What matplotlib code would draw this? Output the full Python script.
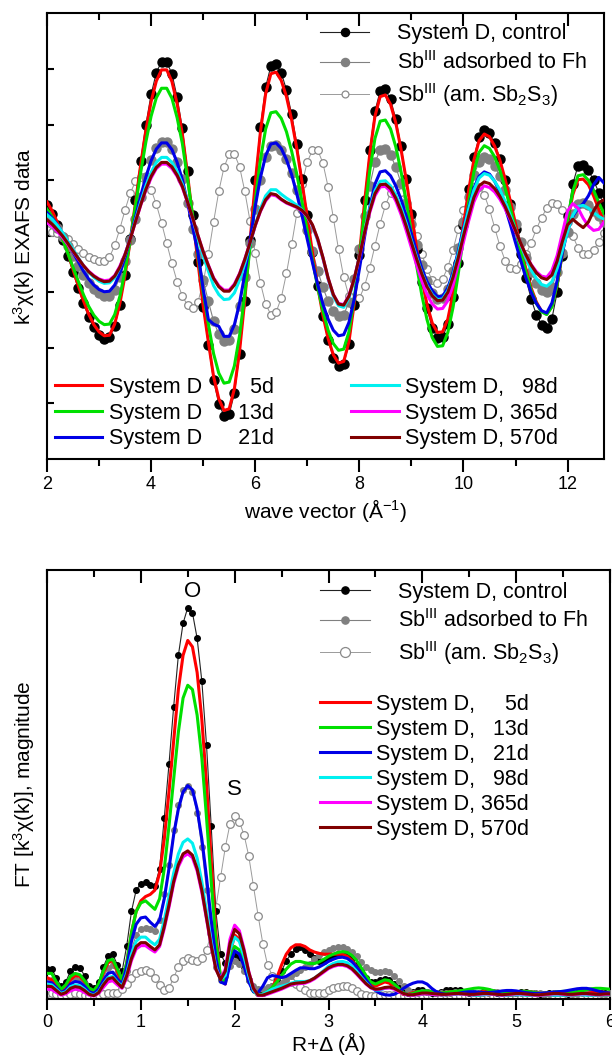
import numpy as np
import matplotlib
matplotlib.use('Agg')
import matplotlib.pyplot as plt

plt.rcParams['font.family'] = ['Liberation Sans', 'DejaVu Sans']
plt.rcParams['mathtext.default'] = 'regular'

# ---------------------------------------------------------------
# EXAFS data, k grid (A^-1)
# ---------------------------------------------------------------
k = np.round(np.arange(2.0, 12.75, 0.1), 1)

chi_control = [
    0.565, 0.40, 0.19, -0.07, -0.35, -0.65, -0.94, -1.21, -1.45, -1.64, -1.77, -1.84,
    -1.82, -1.62, -1.24, -0.70, -0.055, 0.65, 1.35, 2.0, 2.54, 2.93, 3.13,
    3.12, 2.91, 2.49, 1.93, 1.17, 0.37, -0.47, -1.27, -1.95, -2.59, -3.01, -3.22,
    -3.20, -2.82, -2.11, -1.16, -0.075, 1.01, 1.96, 2.67, 3.05,
    3.08, 2.93, 2.62, 2.18, 1.65, 1.03, 0.375, -0.28, -0.90, -1.43, -1.87, -2.18, -2.33,
    -2.30, -1.93, -1.24, -0.34, 0.64, 1.54, 2.24, 2.60,
    2.63, 2.45, 2.10, 1.61, 1.03, 0.40, -0.23, -0.82, -1.30, -1.65, -1.83,
    -1.82, -1.57, -1.10, -0.49, 0.20, 0.84, 1.41, 1.77,
    1.90, 1.84, 1.66, 1.38, 1.01, 0.58, 0.125, -0.33, -0.76, -1.13, -1.41, -1.59,
    -1.65, -1.48, -1.01, -0.35, 0.35, 0.93, 1.26,
    1.28, 1.18, 1.0, 0.78, 0.55]

chi_fh = [
    0.37, 0.27, 0.14, -0.01, -0.18, -0.36, -0.53, -0.70, -0.84, -0.95, -1.03, -1.08,
    -1.07, -0.96, -0.74, -0.44, -0.08, 0.31, 0.70, 1.06, 1.36, 1.57, 1.69,
    1.69, 1.56, 1.33, 1.02, 0.59, 0.13, -0.33, -0.79, -1.17, -1.53, -1.76, -1.89,
    -1.87, -1.66, -1.26, -0.73, -0.13, 0.48, 1.01, 1.41, 1.62,
    1.64, 1.55, 1.38, 1.13, 0.83, 0.48, 0.11, -0.27, -0.62, -0.92, -1.17, -1.34, -1.43,
    -1.41, -1.19, -0.77, -0.23, 0.36, 0.90, 1.32, 1.54,
    1.56, 1.45, 1.24, 0.95, 0.60, 0.22, -0.17, -0.52, -0.81, -1.02, -1.13,
    -1.12, -0.95, -0.63, -0.21, 0.26, 0.70, 1.09, 1.33,
    1.42, 1.38, 1.26, 1.07, 0.82, 0.52, 0.21, -0.10, -0.40, -0.65, -0.84, -0.96,
    -1.0, -0.91, -0.65, -0.30, 0.08, 0.40, 0.58,
    0.6, 0.55, 0.45, 0.35, 0.25]

chi_sb2s3 = [
    0.1, 0.08, 0.05, 0.0, -0.06, -0.14, -0.23, -0.31, -0.38, -0.42, -0.45, -0.45,
    -0.38, -0.17, 0.13, 0.47, 0.77, 0.98, 1.05,
    0.99, 0.83, 0.57, 0.24, -0.13, -0.49, -0.82, -1.08, -1.24, -1.3,
    -1.18, -0.84, -0.33, 0.25, 0.80, 1.23, 1.47,
    1.47, 1.24, 0.80, 0.27, -0.31, -0.84, -1.22, -1.41,
    -1.37, -1.11, -0.67, -0.15, 0.41, 0.94, 1.33, 1.54,
    1.54, 1.31, 0.88, 0.33, -0.24, -0.74, -1.08, -1.2,
    -1.12, -0.90, -0.57, -0.175, 0.22, 0.55, 0.77, 0.85,
    0.79, 0.60, 0.32, 0.0, -0.32, -0.60, -0.79, -0.85,
    -0.77, -0.56, -0.25, 0.12, 0.46, 0.73, 0.88,
    0.88, 0.74, 0.48, 0.15, -0.18, -0.44, -0.58,
    -0.59, -0.50, -0.33, -0.12, 0.12, 0.33, 0.50, 0.59,
    0.58, 0.46, 0.25, 0.0, -0.21, -0.33,
    -0.33, -0.25, -0.1, 0.05]

chi_5d = [
    0.61, 0.45, 0.24, -0.02, -0.30, -0.60, -0.89, -1.16, -1.40, -1.59, -1.72, -1.79,
    -1.78, -1.58, -1.21, -0.70, -0.08, 0.60, 1.28, 1.90, 2.41, 2.78, 2.98,
    2.98, 2.77, 2.37, 1.83, 1.10, 0.32, -0.47, -1.25, -1.90, -2.52, -2.92, -3.13,
    -3.10, -2.74, -2.06, -1.14, -0.10, 0.95, 1.87, 2.55, 2.91,
    2.94, 2.79, 2.50, 2.08, 1.56, 0.96, 0.33, -0.30, -0.90, -1.42, -1.84, -2.13, -2.28,
    -2.25, -1.90, -1.22, -0.35, 0.60, 1.47, 2.15, 2.50,
    2.53, 2.36, 2.03, 1.56, 1.01, 0.40, -0.21, -0.76, -1.23, -1.56, -1.73,
    -1.72, -1.49, -1.03, -0.45, 0.20, 0.82, 1.36, 1.71,
    1.83, 1.78, 1.61, 1.36, 1.02, 0.63, 0.22, -0.20, -0.59, -0.93, -1.18, -1.35,
    -1.40, -1.26, -0.87, -0.32, 0.26, 0.74, 1.01,
    1.02, 0.92, 0.72, 0.48, 0.25]

chi_13d = [
    0.48, 0.34, 0.16, -0.06, -0.31, -0.56, -0.81, -1.05, -1.26, -1.42, -1.53, -1.59,
    -1.58, -1.41, -1.08, -0.62, -0.07, 0.54, 1.14, 1.69, 2.15, 2.48, 2.65,
    2.65, 2.47, 2.12, 1.66, 1.02, 0.35, -0.34, -1.01, -1.58, -2.11, -2.46, -2.64,
    -2.62, -2.33, -1.78, -1.04, -0.21, 0.63, 1.37, 1.92, 2.21,
    2.23, 2.11, 1.87, 1.52, 1.10, 0.61, 0.09, -0.43, -0.92, -1.34, -1.69, -1.93, -2.05,
    -2.03, -1.72, -1.14, -0.39, 0.42, 1.17, 1.75, 2.06,
    2.08, 1.92, 1.60, 1.16, 0.63, 0.05, -0.53, -1.06, -1.50, -1.82, -1.98,
    -1.97, -1.73, -1.28, -0.68, -0.02, 0.60, 1.15, 1.50,
    1.62, 1.57, 1.42, 1.18, 0.86, 0.50, 0.11, -0.29, -0.65, -0.97, -1.21, -1.36,
    -1.41, -1.27, -0.86, -0.30, 0.30, 0.80, 1.08,
    1.10, 1.0, 0.82, 0.6, 0.4]

chi_21d = [
    0.42, 0.32, 0.20, 0.05, -0.12, -0.29, -0.46, -0.63, -0.77, -0.88, -0.96, -1.0,
    -0.99, -0.88, -0.67, -0.38, -0.04, 0.34, 0.72, 1.06, 1.35, 1.56, 1.67,
    1.67, 1.55, 1.32, 1.01, 0.60, 0.15, -0.30, -0.95, -1.50, -1.58, -1.62, -1.80,
    -1.80, -1.59, -1.20, -0.68, -0.08, 0.53, 1.05, 1.44, 1.65,
    1.67, 1.57, 1.37, 1.10, 0.75, 0.36, -0.06, -0.48, -0.87, -1.22, -1.49, -1.69, -1.79,
    -1.77, -1.55, -1.14, -0.60, -0.02, 0.52, 0.93, 1.15,
    1.17, 1.08, 0.90, 0.66, 0.36, 0.04, -0.28, -0.58, -0.82, -0.98, -1.09,
    -1.08, -0.93, -0.65, -0.28, 0.13, 0.51, 0.86, 1.07,
    1.15, 1.11, 0.98, 0.78, 0.52, 0.21, -0.12, -0.44, -0.75, -1.01, -1.21, -1.34,
    -1.38, -1.2, -0.8, -0.3, 0.1, 0.35, 0.5,
    0.58, 0.72, 0.92, 1.05, 0.95]

chi_98d = [
    0.38, 0.30, 0.19, 0.06, -0.09, -0.24, -0.39, -0.53, -0.65, -0.74, -0.81, -0.85,
    -0.84, -0.75, -0.57, -0.33, -0.04, 0.29, 0.61, 0.90, 1.14, 1.32, 1.41,
    1.41, 1.32, 1.16, 0.93, 0.63, 0.30, -0.03, -0.36, -0.63, -0.89, -1.05, -1.14,
    -1.13, -1.02, -0.79, -0.49, -0.15, 0.19, 0.49, 0.72, 0.83,
    0.83, 0.75, 0.68, 0.62, 0.55, 0.47, 0.35, 0.18, -0.08, -0.40, -0.77, -1.08, -1.25,
    -1.28, -1.11, -0.79, -0.38, 0.08, 0.49, 0.81, 0.98,
    0.99, 0.90, 0.74, 0.51, 0.23, -0.08, -0.38, -0.66, -0.89, -1.05, -1.14,
    -1.13, -0.98, -0.70, -0.32, 0.09, 0.48, 0.82, 1.04,
    1.12, 1.09, 0.98, 0.83, 0.62, 0.37, 0.11, -0.15, -0.40, -0.61, -0.76, -0.87,
    -0.90, -0.82, -0.58, -0.26, 0.08, 0.37, 0.53,
    0.55, 0.5, 0.42, 0.35, 0.3]

chi_365d = [
    0.24, 0.17, 0.08, -0.03, -0.15, -0.28, -0.41, -0.53, -0.63, -0.71, -0.77, -0.80,
    -0.79, -0.71, -0.54, -0.32, -0.05, 0.25, 0.55, 0.82, 1.04, 1.21, 1.29,
    1.29, 1.21, 1.07, 0.87, 0.60, 0.31, 0.01, -0.28, -0.52, -0.75, -0.89, -0.97,
    -0.97, -0.86, -0.67, -0.41, -0.12, 0.18, 0.44, 0.63, 0.74,
    0.72, 0.65, 0.59, 0.55, 0.51, 0.45, 0.35, 0.19, -0.06, -0.39, -0.76, -1.05, -1.21,
    -1.23, -1.07, -0.77, -0.39, 0.04, 0.42, 0.72, 0.88,
    0.89, 0.80, 0.63, 0.39, 0.10, -0.21, -0.52, -0.81, -1.05, -1.22, -1.31,
    -1.30, -1.16, -0.88, -0.51, -0.11, 0.27, 0.61, 0.82,
    0.90, 0.87, 0.79, 0.66, 0.49, 0.29, 0.08, -0.14, -0.34, -0.51, -0.64, -0.72,
    -0.74, -0.62, -0.35, 0.05, 0.45, 0.58, 0.5,
    0.32, 0.18, 0.1, 0.12, 0.25]

chi_570d = [
    0.29, 0.21, 0.11, 0.0, -0.13, -0.27, -0.40, -0.53, -0.64, -0.72, -0.78, -0.82,
    -0.81, -0.72, -0.56, -0.33, -0.05, 0.26, 0.56, 0.84, 1.07, 1.23, 1.32,
    1.32, 1.24, 1.09, 0.89, 0.61, 0.32, 0.01, -0.28, -0.53, -0.76, -0.91, -0.99,
    -0.99, -0.88, -0.68, -0.42, -0.12, 0.19, 0.45, 0.65, 0.76,
    0.74, 0.66, 0.60, 0.56, 0.52, 0.46, 0.36, 0.20, -0.05, -0.38, -0.75, -1.05, -1.22,
    -1.24, -1.08, -0.77, -0.38, 0.06, 0.45, 0.76, 0.92,
    0.93, 0.85, 0.68, 0.45, 0.18, -0.12, -0.41, -0.68, -0.91, -1.07, -1.16,
    -1.15, -1.01, -0.74, -0.39, 0.0, 0.36, 0.69, 0.90,
    0.97, 0.94, 0.85, 0.71, 0.53, 0.32, 0.10, -0.13, -0.34, -0.52, -0.66, -0.75,
    -0.78, -0.7, -0.45, -0.1, 0.2, 0.3, 0.22,
    0.15, 0.25, 0.45, 0.6, 0.65]

# ---------------------------------------------------------------
# Fourier transform magnitude, R grid (A)
# ---------------------------------------------------------------
r = np.round(np.arange(0.0, 6.001, 0.05), 2)

ft_control = [
    0.065, 0.065, 0.045, 0.025, 0.035, 0.06, 0.07, 0.068, 0.05, 0.025,
    0.02, 0.035, 0.07, 0.095, 0.1, 0.075, 0.06, 0.12, 0.2, 0.25,
    0.265, 0.27, 0.262, 0.26, 0.3, 0.42, 0.545, 0.68, 0.8, 0.875,
    0.912, 0.9, 0.84, 0.74, 0.59, 0.4, 0.2, 0.1, 0.08, 0.09,
    0.1, 0.09, 0.07, 0.04, 0.02, 0.01, 0.01, 0.015, 0.025, 0.04,
    0.06, 0.085, 0.1, 0.112, 0.116, 0.11, 0.1, 0.09, 0.085, 0.085,
    0.09, 0.095, 0.1, 0.1, 0.098, 0.09, 0.075, 0.06, 0.045, 0.035,
    0.035, 0.04, 0.042, 0.04, 0.03, 0.02, 0.012, 0.01, 0.012, 0.015,
    0.015,
    0.012, 0.01, 0.01, 0.012, 0.015, 0.017, 0.017, 0.015, 0.012, 0.01,
    0.009, 0.01, 0.012, 0.013, 0.012, 0.01, 0.008, 0.008, 0.009, 0.01,
    0.011, 0.011, 0.01, 0.008, 0.007, 0.007, 0.008, 0.009, 0.009, 0.008,
    0.007, 0.008, 0.01, 0.012, 0.013, 0.012, 0.01, 0.009, 0.009, 0.01]

ft_fh = [
    0.04, 0.04, 0.028, 0.015, 0.02, 0.035, 0.042, 0.04, 0.03, 0.015,
    0.01, 0.02, 0.045, 0.068, 0.075, 0.055, 0.035, 0.06, 0.11, 0.145,
    0.16, 0.162, 0.158, 0.155, 0.18, 0.24, 0.31, 0.39, 0.45, 0.485,
    0.495, 0.48, 0.43, 0.35, 0.25, 0.15, 0.07, 0.04, 0.05, 0.072,
    0.083, 0.078, 0.06, 0.04, 0.025, 0.018, 0.018, 0.022, 0.025, 0.028,
    0.033, 0.04, 0.048, 0.055, 0.062, 0.07, 0.078, 0.088, 0.097, 0.105,
    0.11, 0.114, 0.116, 0.116, 0.113, 0.106, 0.095, 0.082, 0.07, 0.062,
    0.058, 0.058, 0.06, 0.058, 0.05, 0.038, 0.025, 0.015, 0.01, 0.01,
    0.012,
    0.012, 0.011, 0.01, 0.009, 0.009, 0.01, 0.011, 0.012, 0.012, 0.011,
    0.01, 0.009, 0.009, 0.01, 0.011, 0.011, 0.01, 0.009, 0.008, 0.008,
    0.009, 0.01, 0.01, 0.009, 0.008, 0.007, 0.007, 0.008, 0.009, 0.009,
    0.008, 0.007, 0.007, 0.008, 0.009, 0.009, 0.008, 0.007, 0.007, 0.008]

ft_sb2s3 = [
    0.008, 0.008, 0.006, 0.004, 0.005, 0.007, 0.008, 0.007, 0.005, 0.003,
    0.003, 0.004, 0.006, 0.008, 0.008, 0.01, 0.018, 0.03, 0.045, 0.055,
    0.06, 0.062, 0.058, 0.045, 0.028, 0.015, 0.02, 0.045, 0.07, 0.085,
    0.09, 0.087, 0.085, 0.09, 0.11, 0.15, 0.21, 0.28, 0.35, 0.405,
    0.423, 0.41, 0.38, 0.33, 0.26, 0.19, 0.125, 0.075, 0.05, 0.04,
    0.04, 0.04, 0.035, 0.03, 0.022, 0.015, 0.01, 0.008, 0.008, 0.01,
    0.015, 0.02, 0.024, 0.026, 0.025, 0.02, 0.013, 0.007, 0.004, 0.003,
    0.003, 0.004, 0.005, 0.005, 0.004, 0.003, 0.003, 0.003, 0.004, 0.004,
    0.004,
    0.004, 0.003, 0.003, 0.003, 0.004, 0.004, 0.004, 0.003, 0.003, 0.003,
    0.004, 0.004, 0.004, 0.003, 0.003, 0.003, 0.004, 0.004, 0.004, 0.003,
    0.003, 0.003, 0.004, 0.004, 0.004, 0.003, 0.003, 0.003, 0.004, 0.004,
    0.004, 0.003, 0.003, 0.003, 0.004, 0.004, 0.004, 0.003, 0.003, 0.003]

ft_5d = [
    0.045, 0.04, 0.025, 0.012, 0.022, 0.04, 0.05, 0.048, 0.035, 0.015,
    0.01, 0.025, 0.055, 0.08, 0.085, 0.06, 0.03, 0.08, 0.15, 0.2,
    0.225, 0.235, 0.24, 0.25, 0.29, 0.37, 0.48, 0.6, 0.72, 0.8,
    0.835, 0.82, 0.76, 0.65, 0.5, 0.32, 0.15, 0.04, 0.03, 0.1,
    0.145, 0.135, 0.1, 0.05, 0.015, 0.005, 0.005, 0.01, 0.02, 0.045,
    0.075, 0.1, 0.115, 0.122, 0.122, 0.118, 0.11, 0.105, 0.102, 0.1,
    0.1, 0.1, 0.1, 0.1, 0.095, 0.085, 0.07, 0.055, 0.04, 0.028,
    0.025, 0.03, 0.035, 0.032, 0.022, 0.012, 0.006, 0.006, 0.01, 0.012,
    0.012,
    0.01, 0.008, 0.007, 0.008, 0.01, 0.012, 0.012, 0.01, 0.008, 0.007,
    0.008, 0.01, 0.012, 0.012, 0.01, 0.008, 0.006, 0.006, 0.008, 0.01,
    0.012, 0.013, 0.012, 0.01, 0.008, 0.006, 0.005, 0.006, 0.008, 0.01,
    0.011, 0.01, 0.008, 0.007, 0.008, 0.01, 0.012, 0.012, 0.01, 0.008]

ft_13d = [
    0.055, 0.055, 0.035, 0.018, 0.028, 0.048, 0.055, 0.052, 0.038, 0.02,
    0.015, 0.03, 0.06, 0.085, 0.088, 0.065, 0.04, 0.08, 0.15, 0.2,
    0.22, 0.225, 0.215, 0.205, 0.23, 0.3, 0.4, 0.51, 0.62, 0.7,
    0.73, 0.72, 0.66, 0.56, 0.42, 0.27, 0.13, 0.045, 0.035, 0.085,
    0.118, 0.11, 0.08, 0.04, 0.012, 0.005, 0.006, 0.012, 0.022, 0.035,
    0.05, 0.065, 0.077, 0.083, 0.083, 0.08, 0.078, 0.078, 0.082, 0.088,
    0.095, 0.1, 0.104, 0.106, 0.104, 0.097, 0.085, 0.068, 0.05, 0.035,
    0.03, 0.035, 0.04, 0.038, 0.03, 0.02, 0.01, 0.005, 0.008, 0.012,
    0.014,
    0.014, 0.012, 0.01, 0.009, 0.01, 0.012, 0.013, 0.014, 0.016, 0.018,
    0.02, 0.021, 0.02, 0.018, 0.015, 0.012, 0.01, 0.009, 0.01, 0.012,
    0.013, 0.013, 0.012, 0.01, 0.008, 0.008, 0.009, 0.01, 0.012, 0.013,
    0.013, 0.012, 0.012, 0.014, 0.017, 0.019, 0.02, 0.02, 0.019, 0.018]

ft_21d = [
    0.035, 0.033, 0.022, 0.01, 0.016, 0.03, 0.036, 0.034, 0.025, 0.012,
    0.008, 0.018, 0.038, 0.055, 0.058, 0.042, 0.03, 0.07, 0.13, 0.17,
    0.185, 0.187, 0.175, 0.165, 0.18, 0.23, 0.3, 0.38, 0.44, 0.48,
    0.495, 0.485, 0.44, 0.37, 0.28, 0.18, 0.09, 0.035, 0.03, 0.075,
    0.108, 0.1, 0.072, 0.035, 0.012, 0.01, 0.025, 0.045, 0.05, 0.048,
    0.045, 0.048, 0.055, 0.062, 0.068, 0.068, 0.066, 0.066, 0.07, 0.076,
    0.083, 0.088, 0.092, 0.093, 0.09, 0.082, 0.07, 0.055, 0.04, 0.025,
    0.015, 0.008, 0.005, 0.004, 0.006, 0.012, 0.02, 0.027, 0.032, 0.035,
    0.035,
    0.03, 0.02, 0.012, 0.008, 0.006, 0.006, 0.007, 0.009, 0.011, 0.012,
    0.012, 0.011, 0.01, 0.01, 0.011, 0.012, 0.014, 0.015, 0.015, 0.014,
    0.012, 0.01, 0.009, 0.008, 0.008, 0.009, 0.01, 0.011, 0.012, 0.013,
    0.015, 0.017, 0.019, 0.02, 0.02, 0.018, 0.015, 0.012, 0.01, 0.009]

ft_98d = [
    0.03, 0.028, 0.018, 0.008, 0.012, 0.024, 0.028, 0.026, 0.018, 0.008,
    0.004, 0.012, 0.03, 0.045, 0.048, 0.035, 0.025, 0.055, 0.1, 0.13,
    0.14, 0.14, 0.13, 0.122, 0.135, 0.18, 0.235, 0.29, 0.335, 0.362,
    0.37, 0.36, 0.325, 0.27, 0.2, 0.13, 0.07, 0.04, 0.05, 0.11,
    0.14, 0.13, 0.095, 0.05, 0.015, 0.004, 0.006, 0.012, 0.018, 0.022,
    0.025, 0.028, 0.032, 0.035, 0.036, 0.036, 0.038, 0.044, 0.052, 0.062,
    0.072, 0.078, 0.082, 0.083, 0.08, 0.072, 0.06, 0.046, 0.033, 0.022,
    0.016, 0.016, 0.02, 0.022, 0.02, 0.014, 0.008, 0.005, 0.005, 0.006,
    0.008,
    0.008, 0.007, 0.006, 0.005, 0.005, 0.006, 0.007, 0.007, 0.006, 0.005,
    0.004, 0.004, 0.005, 0.006, 0.006, 0.005, 0.004, 0.004, 0.005, 0.005,
    0.005, 0.004, 0.004, 0.004, 0.005, 0.005, 0.005, 0.004, 0.004, 0.004,
    0.004, 0.005, 0.005, 0.005, 0.004, 0.004, 0.004, 0.005, 0.005, 0.005]

ft_365d = [
    0.018, 0.017, 0.01, 0.004, 0.007, 0.014, 0.018, 0.016, 0.01, 0.004,
    0.002, 0.008, 0.022, 0.035, 0.038, 0.028, 0.02, 0.045, 0.085, 0.112,
    0.12, 0.12, 0.112, 0.105, 0.118, 0.16, 0.21, 0.265, 0.305, 0.328,
    0.335, 0.326, 0.295, 0.245, 0.182, 0.118, 0.065, 0.042, 0.065, 0.135,
    0.168, 0.155, 0.112, 0.06, 0.02, 0.003, 0.003, 0.006, 0.01, 0.014,
    0.018, 0.023, 0.028, 0.03, 0.031, 0.032, 0.036, 0.042, 0.05, 0.058,
    0.066, 0.071, 0.074, 0.074, 0.071, 0.064, 0.053, 0.041, 0.03, 0.021,
    0.017, 0.018, 0.02, 0.021, 0.018, 0.012, 0.007, 0.004, 0.004, 0.005,
    0.007,
    0.007, 0.006, 0.005, 0.005, 0.005, 0.006, 0.007, 0.007, 0.006, 0.005,
    0.005, 0.006, 0.007, 0.007, 0.006, 0.005, 0.004, 0.005, 0.006, 0.007,
    0.007, 0.006, 0.005, 0.004, 0.004, 0.005, 0.006, 0.007, 0.007, 0.006,
    0.005, 0.005, 0.006, 0.007, 0.007, 0.006, 0.005, 0.005, 0.006, 0.006]

ft_570d = [
    0.025, 0.024, 0.015, 0.006, 0.01, 0.02, 0.024, 0.022, 0.015, 0.006,
    0.003, 0.01, 0.028, 0.042, 0.045, 0.033, 0.022, 0.05, 0.09, 0.118,
    0.127, 0.127, 0.118, 0.11, 0.122, 0.165, 0.215, 0.27, 0.31, 0.335,
    0.342, 0.332, 0.3, 0.25, 0.185, 0.12, 0.065, 0.04, 0.06, 0.125,
    0.158, 0.148, 0.108, 0.058, 0.02, 0.004, 0.004, 0.008, 0.012, 0.016,
    0.02, 0.025, 0.03, 0.032, 0.033, 0.034, 0.038, 0.044, 0.052, 0.06,
    0.068, 0.073, 0.076, 0.076, 0.073, 0.066, 0.055, 0.043, 0.031, 0.022,
    0.018, 0.019, 0.022, 0.023, 0.02, 0.014, 0.008, 0.005, 0.005, 0.007,
    0.009,
    0.009, 0.008, 0.007, 0.006, 0.006, 0.007, 0.008, 0.008, 0.007, 0.006,
    0.006, 0.007, 0.008, 0.008, 0.007, 0.006, 0.005, 0.006, 0.007, 0.008,
    0.008, 0.007, 0.006, 0.005, 0.005, 0.006, 0.007, 0.008, 0.008, 0.007,
    0.006, 0.006, 0.007, 0.008, 0.008, 0.007, 0.006, 0.006, 0.007, 0.007]

ref_labels = ['System D, control',
              'Sb$^{III}$ adsorbed to Fh',
              'Sb$^{III}$ (am. Sb$_2$S$_3$)']
top_time_labels = ['System D        5d', 'System D      13d', 'System D      21d',
                   'System D,   98d', 'System D, 365d', 'System D, 570d']
bot_time_labels = ['System D,     5d', 'System D,   13d', 'System D,   21d',
                   'System D,   98d', 'System D, 365d', 'System D, 570d']
time_colors = ['#ff0000', '#00e000', '#0000e6', '#00f0f0', '#ff00ff', '#800000']

fs_tick = 13
fs_leg = 15.5
fs_lab = 15

fig = plt.figure(figsize=(6.12, 10.61), dpi=100)
ax1 = fig.add_axes([47/612, 1-459/1061, 557/612, 446/1061])
ax2 = fig.add_axes([47/612, 1-999/1061, 563/612, 429/1061])


def draw(ax, x, ctrl, fh, sbs, timed, ms_dot, ms_open):
    h_s, = ax.plot(x, sbs, '-o', color='#9a9a9a', lw=0.7, ms=ms_open,
                   mfc='white', mec='#8a8a8a', mew=0.9, zorder=2)
    h_c, = ax.plot(x, ctrl, '-o', color='#222222', lw=0.8, ms=ms_dot,
                   mfc='black', mec='black', zorder=3)
    h_f, = ax.plot(x, fh, '-o', color='#808080', lw=0.8, ms=ms_dot,
                   mfc='#808080', mec='#808080', zorder=3)
    hs = []
    for y, c in zip(timed, time_colors):
        h, = ax.plot(x, y, '-', color=c, lw=2.2, zorder=4)
        hs.append(h)
    return [h_c, h_f, h_s], hs


def frame(ax, xmaj, xmin, tlen):
    for s in ax.spines.values():
        s.set_linewidth(1.5)
    ax.set_xticks(xmaj)
    ax.set_xticks(xmin, minor=True)
    ax.tick_params(axis='x', which='major', direction='out', length=tlen,
                   width=1.5, top=False, labelsize=fs_tick, pad=3)
    ax.tick_params(axis='x', which='minor', direction='out', length=5,
                   width=1.5, top=False)
    axt = ax.twiny()
    axt.set_xlim(ax.get_xlim())
    axt.set_xticks(xmaj)
    axt.set_xticks(xmin, minor=True)
    axt.tick_params(axis='x', which='major', direction='in', length=9,
                    width=1.5, labeltop=False)
    axt.tick_params(axis='x', which='minor', direction='in', length=5,
                    width=1.5)
    for s in axt.spines.values():
        s.set_visible(False)


# ---------------- top panel: k^3 chi(k) ----------------
refs, times = draw(ax1, k, chi_control, chi_fh, chi_sb2s3,
                   [chi_5d, chi_13d, chi_21d, chi_98d, chi_365d, chi_570d],
                   6.5, 5.5)
ax1.set_xlim(2, 12.7)
ax1.set_ylim(-4, 4)
ax1.set_yticks([-3, -2, -1, 0, 1, 2, 3])
ax1.set_yticklabels([])
ax1.tick_params(axis='y', direction='in', length=5, width=1.5, right=False)
frame(ax1, [2, 4, 6, 8, 10, 12], [3, 5, 7, 9, 11], 9)
ax1.set_xlabel('wave vector (Å$^{-1}$)', fontsize=fs_lab, labelpad=3)
ax1.set_ylabel('k$^3$χ(k) EXAFS data', fontsize=fs_lab, labelpad=4)

leg = ax1.legend(refs, ref_labels, loc='upper left', bbox_to_anchor=(0.49, 0.977),
                 frameon=False, fontsize=fs_leg, handlelength=2.3,
                 handletextpad=1.3, labelspacing=0.32, borderpad=0,
                 borderaxespad=0, numpoints=1, markerscale=0.9)
ax1.add_artist(leg)
ax1.legend(times, top_time_labels, ncol=2, loc='upper left',
           bbox_to_anchor=(0.0144, 0.184), frameon=False, fontsize=fs_leg,
           handlelength=2.2, handletextpad=0.3, labelspacing=0.22,
           columnspacing=3.6, borderpad=0, borderaxespad=0)

# ---------------- bottom panel: FT magnitude ----------------
refs2, times2 = draw(ax2, r, ft_control, ft_fh, ft_sb2s3,
                     [ft_5d, ft_13d, ft_21d, ft_98d, ft_365d, ft_570d],
                     4.0, 5.5)
ax2.set_xlim(0, 6)
ax2.set_ylim(-0.005, 1.0)
ax2.set_yticks([])
frame(ax2, [0, 1, 2, 3, 4, 5, 6], [0.5, 1.5, 2.5, 3.5, 4.5, 5.5], 8)
ax2.set_xlabel('R+Δ (Å)', fontsize=fs_lab, labelpad=1)
ax2.set_ylabel('FT [k$^3$χ(k)], magnitude', fontsize=fs_lab, labelpad=7)
ax2.text(1.55, 0.95, 'O', ha='center', va='center', fontsize=16)
ax2.text(2.0, 0.485, 'S', ha='center', va='center', fontsize=16)

leg2 = ax2.legend(refs2, ref_labels, loc='upper left', bbox_to_anchor=(0.485, 0.972),
                  frameon=False, fontsize=fs_leg, handlelength=2.3,
                  handletextpad=1.3, labelspacing=0.3, borderpad=0,
                  borderaxespad=0, numpoints=1, markerscale=1.3)
ax2.add_artist(leg2)
ax2.legend(times2, bot_time_labels, loc='upper left',
           bbox_to_anchor=(0.485, 0.712), frameon=False, fontsize=fs_leg,
           handlelength=2.3, handletextpad=0.3, labelspacing=0.19,
           borderpad=0, borderaxespad=0)

fig.savefig('out.png', dpi=100)
